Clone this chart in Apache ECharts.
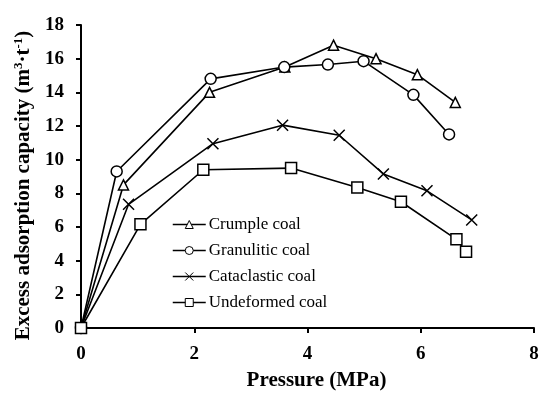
<!DOCTYPE html>
<html><head><meta charset="utf-8">
<script src="https://cdn.jsdelivr.net/npm/echarts@6/dist/echarts.min.js"></script>
<style>html,body{margin:0;padding:0;background:#fff}#c{width:550px;height:398px}</style>
</head><body><div id="c"></div>
<script>
const seriesNames = ['Crumple coal', 'Granulitic coal', 'Cataclastic coal', 'Undeformed coal'];
const crumple = [[0,0],[0.75,8.5],[2.27,14.0],[3.6,15.5],[4.46,16.8],[5.21,16.0],[5.94,15.05],[6.61,13.4]];
const granulitic = [[0,0],[0.63,9.3],[2.29,14.8],[3.59,15.5],[4.36,15.65],[4.99,15.85],[5.87,13.85],[6.5,11.5]];
const cataclastic = [[0,0],[0.84,7.35],[2.33,10.95],[3.56,12.05],[4.56,11.45],[5.34,9.15],[6.11,8.15],[6.9,6.42]];
const undeformed = [[0,0],[1.05,6.16],[2.16,9.4],[3.71,9.5],[4.88,8.35],[5.65,7.5],[6.63,5.27],[6.8,4.53]];
const xTicks = {min: 0, max: 8, interval: 2};
const yTicks = {min: 0, max: 18, interval: 2};

const font = '"Liberation Serif", "Times New Roman", serif';
const crossPath = 'path://M0,0L10,10M10,0L0,10';
const symbols = ['triangle', 'circle', crossPath, 'rect'];
const sizes = [10, 11, 11, 11];
const datas = [crumple, granulitic, cataclastic, undeformed];

const chart = echarts.init(document.getElementById('c'), null, {renderer: 'canvas'});
chart.setOption({
  animation: false,
  backgroundColor: '#fff',
  grid: {left: 81, right: 16, top: 25, bottom: 70, containLabel: false},
  legend: {
    orient: 'vertical', left: 172, top: 216, padding: 0,
    itemWidth: 33, itemHeight: 10, itemGap: 9,
    itemStyle: {color: '#fff', borderColor: '#000', borderWidth: 1},
    lineStyle: {color: '#000', width: 1.5},
    textStyle: {fontFamily: font, fontSize: 17, color: '#000', padding: [0, 0, 0, -2]},
    data: seriesNames
  },
  xAxis: {
    type: 'value', min: xTicks.min, max: xTicks.max, interval: xTicks.interval,
    name: 'Pressure (MPa)', nameLocation: 'middle', nameGap: 42,
    nameTextStyle: {fontFamily: font, fontSize: 21, fontWeight: 'bold', color: '#000', padding: [0, 0, 0, 18]},
    axisLine: {lineStyle: {color: '#000', width: 2}},
    axisTick: {show: true, inside: false, length: 5, lineStyle: {color: '#000', width: 2}},
    axisLabel: {fontFamily: font, fontSize: 19, fontWeight: 'bold', color: '#000', margin: 17},
    splitLine: {show: false}
  },
  yAxis: {
    type: 'value', min: yTicks.min, max: yTicks.max, interval: yTicks.interval,
    name: '{b|Excess adsorption capacity (m}{s|3}{b|·t}{s|-1}{b|)}', nameLocation: 'middle', nameGap: 46,
    nameTextStyle: {
      fontFamily: font, fontSize: 21, fontWeight: 'bold', color: '#000',
      padding: [0, 18, 0, 0],
      rich: {
        b: {fontFamily: font, fontSize: 21, fontWeight: 'bold', color: '#000', lineHeight: 23},
        s: {fontFamily: font, fontSize: 13, color: '#000', verticalAlign: 'top', lineHeight: 23}
      }
    },
    axisLine: {show: true, lineStyle: {color: '#000', width: 2}},
    axisTick: {show: true, inside: false, length: 5, lineStyle: {color: '#000', width: 2}},
    axisLabel: {fontFamily: font, fontSize: 19, fontWeight: 'bold', color: '#000', margin: 17},
    splitLine: {show: false}
  },
  series: datas.map((d, i) => ({
    name: seriesNames[i],
    type: 'line',
    data: d,
    symbol: symbols[i],
    symbolSize: sizes[i],
    showAllSymbol: true,
    lineStyle: {color: '#000', width: 1.6},
    itemStyle: {color: i === 2 ? 'rgba(255,255,255,0)' : '#fff', borderColor: '#000', borderWidth: 1.5},
    emphasis: {disabled: true},
    z: 2
  }))
});
</script></body></html>
